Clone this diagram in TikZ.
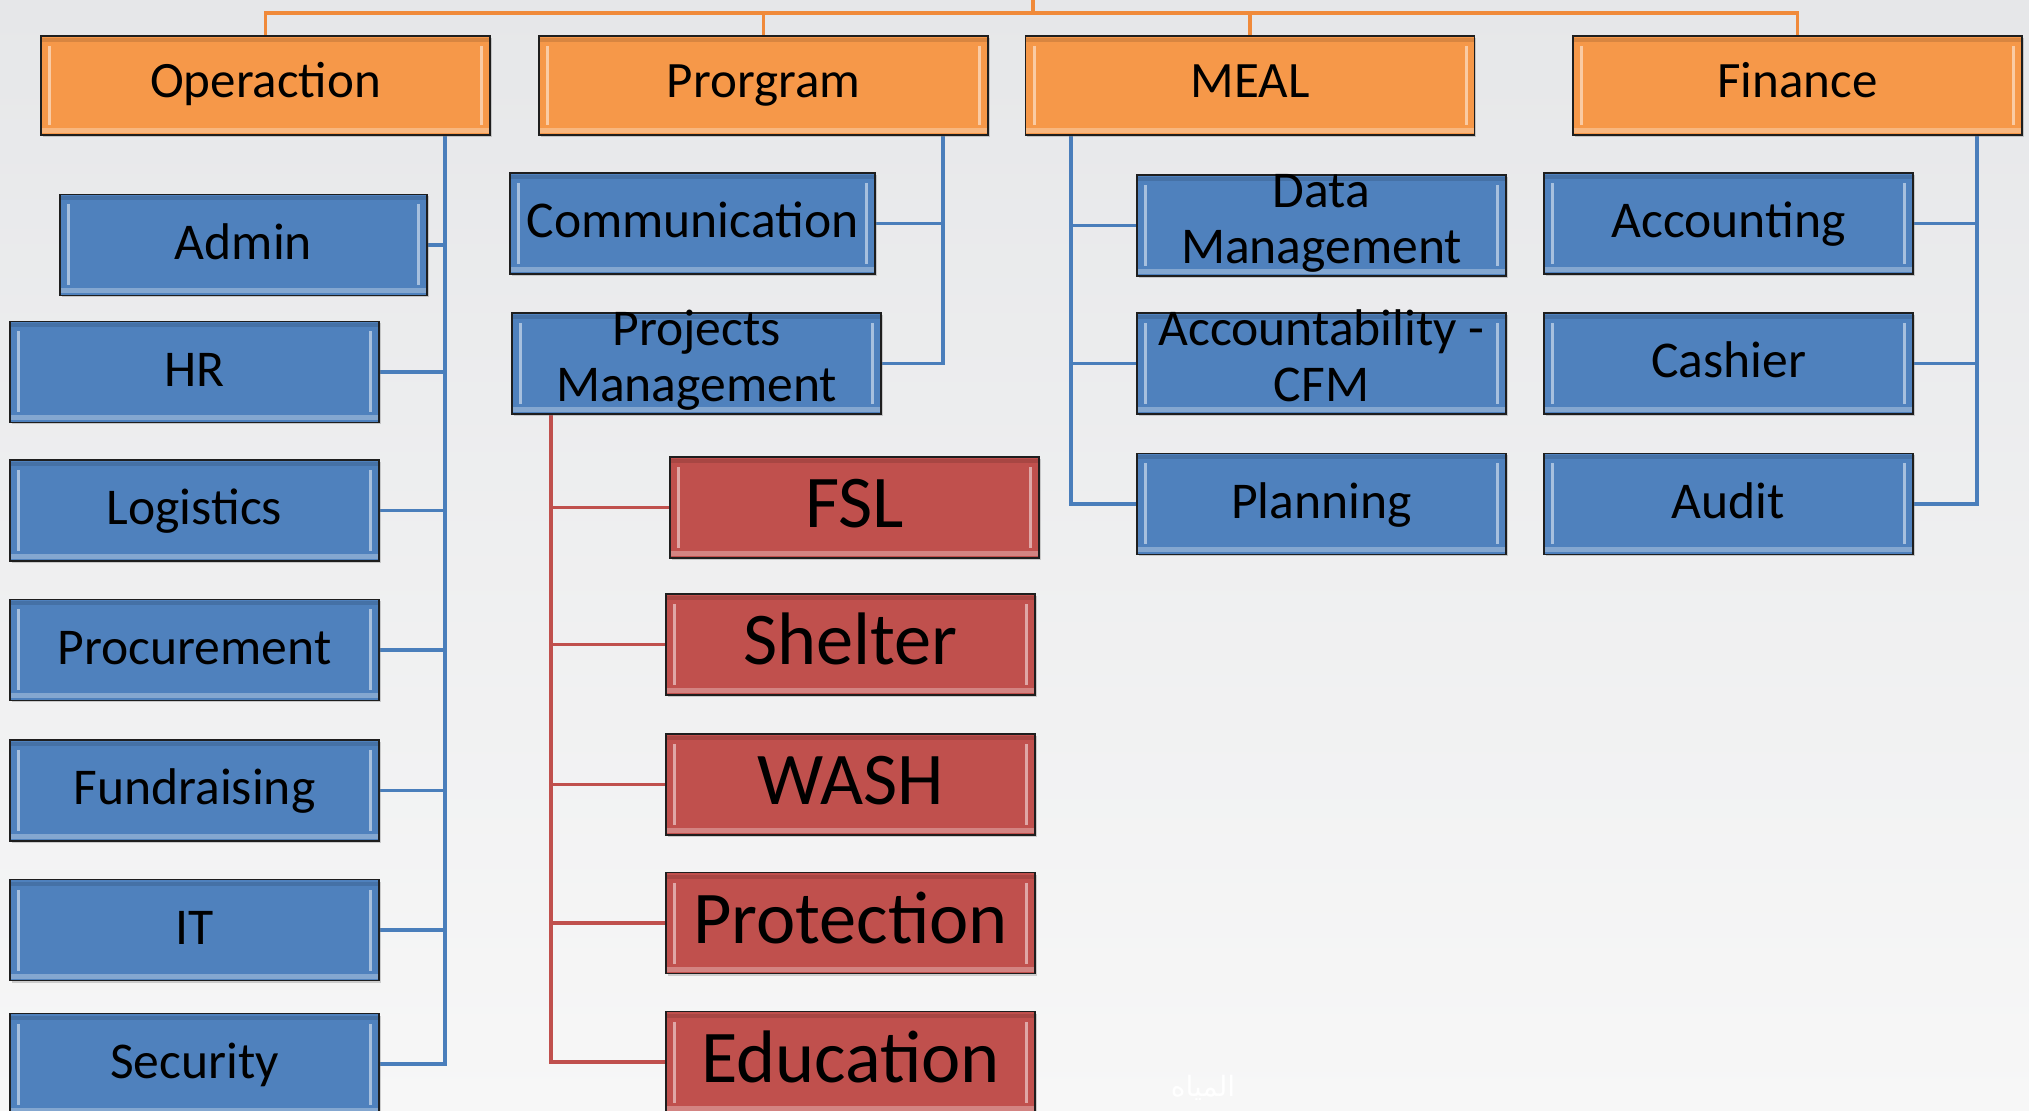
\documentclass[tikz,border=0pt]{standalone}
\usepackage{fontspec}
\setmainfont{Carlito}
\newfontfamily\arabicfont[Script=Arabic]{DejaVu Sans}
\TeXXeTstate=1
\usetikzlibrary{shadows}
\pgfdeclarelayer{bglayer}
\pgfdeclarelayer{linelayer}
\pgfsetlayers{bglayer,linelayer,main}
\definecolor{bgtop}{HTML}{E6E7E9}
\definecolor{bgbot}{HTML}{F7F7F7}
\definecolor{orfill}{HTML}{F69849}
\definecolor{blfill}{HTML}{4F81BD}
\definecolor{rdfill}{HTML}{C0504D}
\definecolor{orline}{HTML}{F08A3A}
\definecolor{blline}{HTML}{4A7EBB}
\definecolor{rdline}{HTML}{C0504D}
\definecolor{boxedge}{HTML}{1E1E1E}
\newcommand\twoline[2]{\raisebox{1.5pt}{\smash{\begin{tabular}{@{}c@{}}#1\\#2\end{tabular}}}}
\tikzset{
 bevel/.style={path picture={
  \fill[white,opacity=.5] ([xshift=3.5pt,yshift=-5pt]path picture bounding box.north west) rectangle ([xshift=5pt,yshift=5pt]path picture bounding box.south west);
  \fill[white,opacity=.5] ([xshift=-3.5pt,yshift=-5pt]path picture bounding box.north east) rectangle ([xshift=-5pt,yshift=5pt]path picture bounding box.south east);
  \fill[white,opacity=.3] ([yshift=3.5pt]path picture bounding box.south west) rectangle ([yshift=1pt]path picture bounding box.south east);
  \fill[black,opacity=.12] ([yshift=-1pt]path picture bounding box.north west) rectangle ([yshift=-3pt]path picture bounding box.north east);
 }},
 basebox/.style={rectangle, draw=boxedge, line width=0.9pt, inner sep=0pt, bevel,
   drop shadow={shadow xshift=0.8pt, shadow yshift=-1pt, opacity=.35}, text=black},
 topbox/.style={basebox, fill=orfill, minimum width=224.5pt, minimum height=49.5pt,
   font=\fontsize{25.5}{28}\selectfont, text height=18.5pt, text depth=6pt},
 bluebox/.style={basebox, fill=blfill, minimum width=184.5pt, minimum height=50.5pt,
   font=\fontsize{25.8}{28}\selectfont, text height=20.5pt, text depth=6pt},
 redbox/.style={basebox, fill=rdfill, minimum width=184.5pt, minimum height=50.5pt,
   font=\fontsize{37.2}{40}\selectfont, text height=29pt, text depth=8.5pt},
 orconn/.style={draw=orline, line width=1.6pt},
 blconn/.style={draw=blline, line width=1.6pt},
 rdconn/.style={draw=rdline, line width=1.6pt},
}
\begin{document}
\begin{tikzpicture}[x=0.5pt,y=-0.5pt]
\useasboundingbox (0,0) rectangle (2029,1111);
\begin{pgfonlayer}{bglayer}
\shade[top color=bgtop, bottom color=bgbot] (0,0) rectangle (2029,1111);
\end{pgfonlayer}

% top level
\node[topbox] (op) at (265.5,85.5) {Operaction};
\node[topbox] (pg) at (763.5,85.5) {Prorgram};
\node[topbox] (me) at (1250,85.5) {MEAL};
\node[topbox] (fi) at (1797.5,85.5) {Finance};

% Operaction children
\node[bluebox, minimum width=183.5pt] (adm) at (243.5,245) {Admin};
\node[bluebox] (hr) at (194.5,372) {HR};
\node[bluebox] (log) at (194.5,510.5) {Logistics};
\node[bluebox] (proc) at (194.5,650) {Procurement};
\node[bluebox] (fund) at (194.5,790.5) {Fundraising};
\node[bluebox] (it) at (194.5,930) {IT};
\node[bluebox] (sec) at (194.5,1064) {Security};

% Program children
\node[bluebox, minimum width=182.5pt] (com) at (692.5,223.5) {Communication};
\node[bluebox] (pm) at (696.5,363.5) {\twoline{Projects}{Management}};
\node[redbox] (fsl) at (854.5,507.5) {FSL};
\node[redbox] (shel) at (850.5,644.5) {Shelter};
\node[redbox] (wash) at (850.5,784.5) {WASH};
\node[redbox] (prot) at (850.5,923) {Protection};
\node[redbox] (edu) at (850.5,1062) {Education};

% MEAL children
\node[bluebox] (dm) at (1321.5,225.5) {\twoline{Data}{Management}};
\node[bluebox] (acc) at (1321.5,363.5) {\twoline{Accountability -}{CFM}};
\node[bluebox] (plan) at (1321.5,504) {Planning};

% Finance children
\node[bluebox] (acct) at (1728.5,223.5) {Accounting};
\node[bluebox] (cash) at (1728.5,363.5) {Cashier};
\node[bluebox] (aud) at (1728.5,504) {Audit};

% watermark
\node[text=white, font=\arabicfont\fontsize{14}{16}\selectfont] (wm) at (1203,1088) {\beginR المياه\endR};

% trunk coordinates
\coordinate (topend) at (1033,0);
\coordinate (bar) at (1033,13);
\coordinate (ot) at (445,0);
\coordinate (pt) at (943,0);
\coordinate (rt) at (551,0);
\coordinate (mt) at (1071,0);
\coordinate (ft) at (1977,0);

\begin{pgfonlayer}{linelayer}
\draw[orconn] (topend) -- (bar);
\draw[orconn] (op.north) |- (bar) -| (fi.north);
\draw[orconn] (pg.north) -- (pg.north |- bar);
\draw[orconn] (me.north) -- (me.north |- bar);

\draw[blconn] (op.south -| ot) |- (sec.east);
\foreach \n in {adm,hr,log,proc,fund,it} \draw[blconn] (\n.east) -- (\n.east -| ot);

\draw[blconn] (pg.south -| pt) |- (pm.east);
\draw[blconn] (com.east) -- (com.east -| pt);

\draw[rdconn] (pm.south -| rt) |- (edu.west);
\foreach \n in {fsl,shel,wash,prot} \draw[rdconn] (\n.west) -- (\n.west -| rt);

\draw[blconn] (me.south -| mt) |- (plan.west);
\foreach \n in {dm,acc} \draw[blconn] (\n.west) -- (\n.west -| mt);

\draw[blconn] (fi.south -| ft) |- (aud.east);
\foreach \n in {acct,cash} \draw[blconn] (\n.east) -- (\n.east -| ft);
\end{pgfonlayer}
\end{tikzpicture}
\end{document}
